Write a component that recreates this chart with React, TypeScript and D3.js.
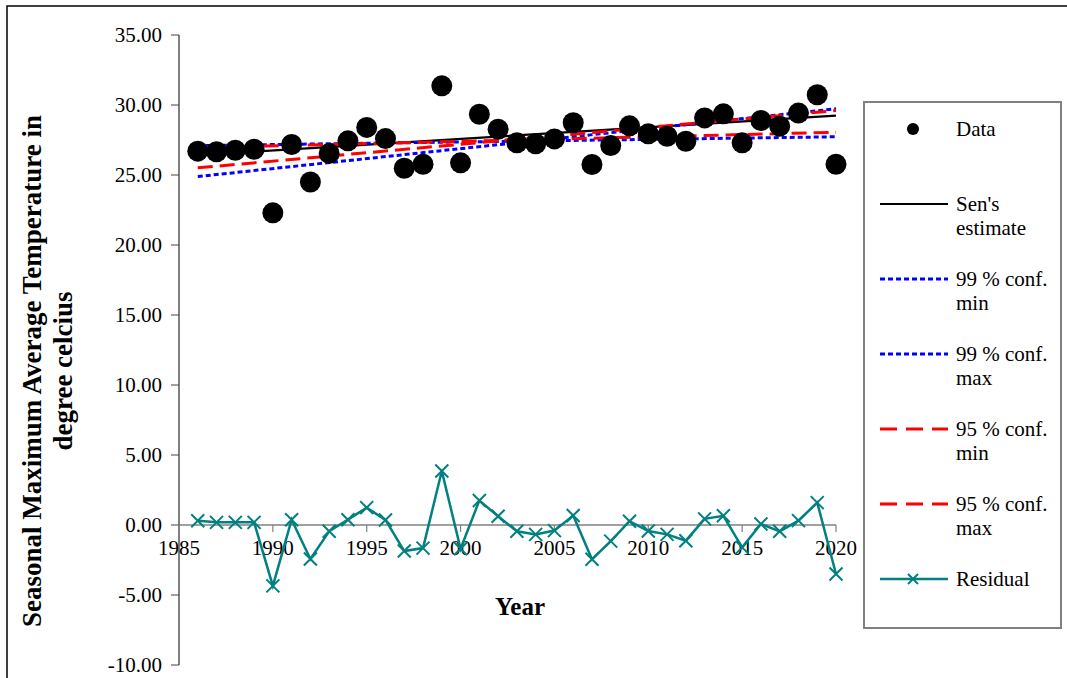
import React from "react";
import * as d3 from "d3";

// Observation years
const years: number[] = [
  1986, 1987, 1988, 1989, 1990, 1991, 1992, 1993, 1994, 1995, 1996, 1997,
  1998, 1999, 2000, 2001, 2002, 2003, 2004, 2005, 2006, 2007, 2008, 2009,
  2010, 2011, 2012, 2013, 2014, 2015, 2016, 2017, 2018, 2019, 2020,
];

// Seasonal maximum average temperature (°C)
const tempData: number[] = [
  26.7, 26.66, 26.77, 26.84, 22.3, 27.18, 24.5, 26.54, 27.44, 28.4, 27.6,
  25.48, 25.77, 31.37, 25.87, 29.34, 28.27, 27.3, 27.23, 27.58, 28.73, 25.75,
  27.1, 28.51, 27.94, 27.77, 27.41, 29.08, 29.37, 27.3, 28.89, 28.49, 29.42,
  30.73, 25.77,
];

// Residuals from Sen's estimate
const residuals: number[] = [
  0.3, 0.19, 0.19, 0.19, -4.35, 0.38, -2.43, -0.45, 0.38, 1.24, 0.36, -1.86,
  -1.65, 3.86, -1.7, 1.75, 0.62, -0.45, -0.67, -0.4, 0.68, -2.45, -1.15, 0.27,
  -0.43, -0.67, -1.12, 0.44, 0.66, -1.6, 0.07, -0.45, 0.31, 1.6, -3.5,
];

// Trend lines: values at the first and last year
const trendYears: number[] = [1986, 2020];
const sensEstimate: number[] = [26.42, 29.24];
const conf99Min: number[] = [27.1, 27.73];
const conf99Max: number[] = [24.89, 29.73];
const conf95Min: number[] = [26.95, 28.05];
const conf95Max: number[] = [25.51, 29.6];

const yTicks: number[] = [-10, -5, 0, 5, 10, 15, 20, 25, 30, 35];
const xTicks: number[] = [1985, 1990, 1995, 2000, 2005, 2010, 2015, 2020];

const FONT = "'Liberation Serif', 'Times New Roman', Times, serif";
const TEAL = "#008080";

const x = d3.scaleLinear().domain([1985, 2020]).range([179, 836]);
const y = d3.scaleLinear().domain([-10, 35]).range([665, 35]);

const trendLine = (vals: number[]) =>
  d3
    .line<number>()
    .x((_, i) => x(trendYears[i]))
    .y((v) => y(v))(vals) as string;

const residualLine = d3
  .line<number>()
  .x((_, i) => x(years[i]))
  .y((v) => y(v))(residuals) as string;

const Cross = ({ cx, cy, s }: { cx: number; cy: number; s: number }) => (
  <path
    d={`M${cx - s},${cy - s}L${cx + s},${cy + s}M${cx - s},${cy + s}L${cx + s},${cy - s}`}
    stroke={TEAL}
    strokeWidth={2}
    fill="none"
  />
);

const trendStyles = [
  { key: "sen", vals: sensEstimate, color: "#000000", dash: undefined, width: 2.2 },
  { key: "c99min", vals: conf99Min, color: "#0000ff", dash: "5 3", width: 3 },
  { key: "c99max", vals: conf99Max, color: "#0000ff", dash: "5 3", width: 3 },
  { key: "c95min", vals: conf95Min, color: "#ff0000", dash: "15 7", width: 3 },
  { key: "c95max", vals: conf95Max, color: "#ff0000", dash: "15 7", width: 3 },
];

const legendItems = [
  { lines: ["Data"], kind: "dot" },
  { lines: ["Sen's", "estimate"], kind: "line", color: "#000000", dash: undefined, width: 2.2 },
  { lines: ["99 % conf.", "min"], kind: "line", color: "#0000ff", dash: "5 3", width: 3 },
  { lines: ["99 % conf.", "max"], kind: "line", color: "#0000ff", dash: "5 3", width: 3 },
  { lines: ["95 % conf.", "min"], kind: "line", color: "#ff0000", dash: "17 9", width: 3 },
  { lines: ["95 % conf.", "max"], kind: "line", color: "#ff0000", dash: "17 9", width: 3 },
  { lines: ["Residual"], kind: "residual" },
];

// tick labels with a plain hyphen for negatives
const fmtTick = (v: number) => v.toFixed(2);

export default function App() {
  return (
    <svg
      width={1067}
      height={678}
      style={{ position: "absolute", left: 0, top: 0, background: "#fff", fontFamily: FONT }}
    >
      {/* chart frame */}
      <rect x={7} y={6} width={1100} height={700} fill="#fff" stroke="#000" strokeWidth={1.5} />

      {/* y axis */}
      <line x1={179} x2={179} y1={y(35)} y2={y(-10)} stroke="#000" strokeWidth={1} />
      {yTicks.map((t) => (
        <g key={t}>
          <line x1={171} x2={179} y1={y(t)} y2={y(t)} stroke="#444" strokeWidth={1} />
          <text
            x={162}
            y={y(t)}
            textAnchor="end"
            dominantBaseline="central"
            fontSize={21}
            fontFamily={FONT}
            fill="#000"
          >
            {fmtTick(t)}
          </text>
        </g>
      ))}

      {/* x axis at zero */}
      <line x1={x(1985)} x2={x(2020)} y1={y(0)} y2={y(0)} stroke="#808080" strokeWidth={1.5} />
      {xTicks.map((t) => (
        <g key={t}>
          <line x1={x(t)} x2={x(t)} y1={y(0)} y2={y(0) + 7} stroke="#808080" strokeWidth={1.2} />
          <text
            x={x(t)}
            y={y(0) + 30}
            textAnchor="middle"
            fontSize={21}
            fontFamily={FONT}
            fill="#000"
          >
            {t}
          </text>
        </g>
      ))}

      {/* axis titles */}
      <text x={520} y={615} textAnchor="middle" fontSize={25} fontWeight="bold" fontFamily={FONT}>
        Year
      </text>
      <g transform="translate(32,371) rotate(-90)">
        <text
          textAnchor="middle"
          dominantBaseline="central"
          fontSize={27}
          fontWeight="bold"
          fontFamily={FONT}
        >
          Seasonal Maximum Average Temperature in
        </text>
      </g>
      <g transform="translate(63,371) rotate(-90)">
        <text
          textAnchor="middle"
          dominantBaseline="central"
          fontSize={27}
          fontWeight="bold"
          fontFamily={FONT}
        >
          degree celcius
        </text>
      </g>

      {/* trend lines */}
      {trendStyles.map((s) => (
        <path
          key={s.key}
          d={trendLine(s.vals)}
          fill="none"
          stroke={s.color}
          strokeWidth={s.width}
          strokeDasharray={s.dash}
        />
      ))}

      {/* data points */}
      {tempData.map((v, i) => (
        <circle key={years[i]} cx={x(years[i])} cy={y(v)} r={10.5} fill="#000" />
      ))}

      {/* residual series */}
      <path d={residualLine} fill="none" stroke={TEAL} strokeWidth={2.5} />
      {residuals.map((v, i) => (
        <Cross key={years[i]} cx={x(years[i])} cy={y(v)} s={6.5} />
      ))}

      {/* legend */}
      <rect x={864} y={102} width={197} height={526} fill="#fff" stroke="#808080" strokeWidth={2} />
      {legendItems.map((item, i) => {
        const ly = 129 + i * 75;
        return (
          <g key={i}>
            {item.kind === "dot" && <circle cx={913} cy={ly} r={6} fill="#000" />}
            {item.kind === "line" && (
              <line
                x1={880}
                x2={948}
                y1={ly}
                y2={ly}
                stroke={item.color}
                strokeWidth={item.width}
                strokeDasharray={item.dash}
              />
            )}
            {item.kind === "residual" && (
              <g>
                <line x1={880} x2={948} y1={ly} y2={ly} stroke={TEAL} strokeWidth={2.5} />
                <Cross cx={913} cy={ly} s={5} />
              </g>
            )}
            {item.lines.map((t, j) => (
              <text
                key={j}
                x={956}
                y={ly + j * 24}
                dominantBaseline="central"
                fontSize={21}
                fontFamily={FONT}
              >
                {t}
              </text>
            ))}
          </g>
        );
      })}
    </svg>
  );
}
